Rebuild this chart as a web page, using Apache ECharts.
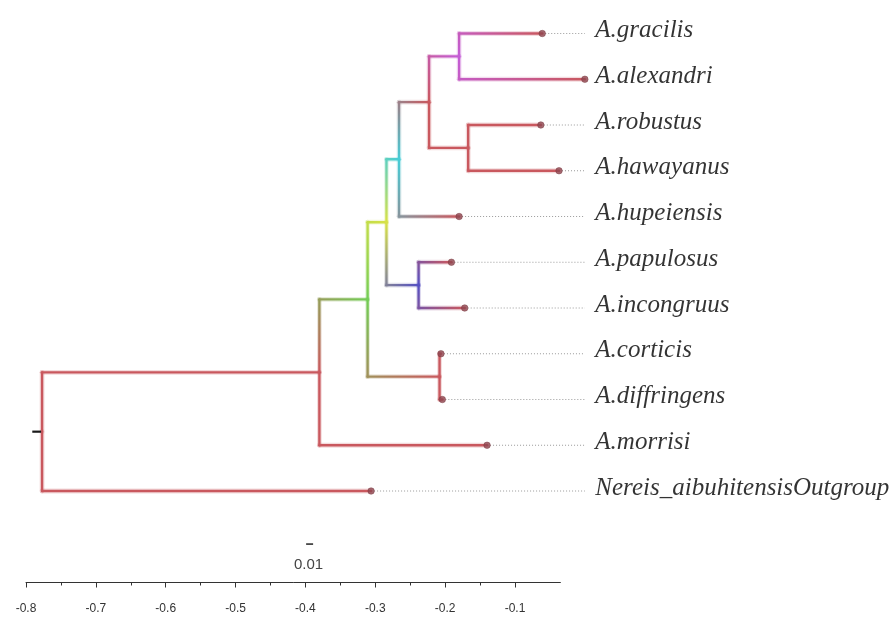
<!DOCTYPE html>
<html><head><meta charset="utf-8">
<script src="https://cdn.jsdelivr.net/npm/echarts@6/dist/echarts.min.js"></script>
<style>html,body{margin:0;padding:0;background:#fff}#c{width:893px;height:619px}</style>
</head><body><div id="c"></div>
<script>
// ---- data ----
const leafNames = ['A.gracilis','A.alexandri','A.robustus','A.hawayanus','A.hupeiensis','A.papulosus','A.incongruus','A.corticis','A.diffringens','A.morrisi','Nereis_aibuhitensisOutgroup'];
const leafX = [-0.061, 0.000, -0.063, -0.037, -0.180, -0.191, -0.172, -0.206, -0.204, -0.140, -0.306];
const nodeNames = ['F','G','E','D','H','C','I','B','A','Root'];
const nodeX = [-0.180, -0.167, -0.223, -0.266, -0.238, -0.284, -0.208, -0.311, -0.380, -0.777];
const nodeKids = [
  ['A.gracilis','A.alexandri'],
  ['A.robustus','A.hawayanus'],
  ['F','G'],
  ['E','A.hupeiensis'],
  ['A.papulosus','A.incongruus'],
  ['D','H'],
  ['A.corticis','A.diffringens'],
  ['C','I'],
  ['B','A.morrisi'],
  ['A','Nereis_aibuhitensisOutgroup']
];
const rootStubX = -0.791;
const labelAnchorX = 0.0;
const tickValues = [-0.8,-0.7,-0.6,-0.5,-0.4,-0.3,-0.2,-0.1];
const minorTickValues = [-0.75,-0.65,-0.55,-0.45,-0.35,-0.25,-0.15];
const scaleBarCenter = -0.394;
const scaleBarLength = 0.01;
const scaleBarText = '0.01';

// ---- styles ----
const palette = {
  red: [201, 88, 94],
  magenta: [196, 92, 214],
  cyan: [70, 205, 215],
  yellow: [215, 225, 70],
  green: [115, 205, 85],
  blue: [85, 80, 195]
};
const nodeColorKey = {Root:'red', A:'red', B:'green', C:'yellow', D:'cyan', E:'red', F:'magenta', G:'red', H:'blue', I:'red'};

// ---- build tree ----
const pos = {};
leafNames.forEach((n, i) => { pos[n] = {x: leafX[i], y: i, col: palette.red}; });
nodeNames.forEach((n, i) => {
  const ys = nodeKids[i].map(k => pos[k].y);
  pos[n] = {x: nodeX[i], y: ys.reduce((a, b) => a + b, 0) / ys.length, col: palette[nodeColorKey[n]]};
});
const edges = [];
nodeNames.forEach((n, i) => {
  nodeKids[i].forEach(k => { edges.push({p: pos[n], c: pos[k]}); });
});

function rgb(c) { return 'rgb(' + c.map(v => Math.round(v)).join(',') + ')'; }
function lerp(a, b, t) { return a.map((v, i) => v + (b[i] - v) * t); }
function seg(x1, y1, x2, y2, c1, c2, w, op) {
  const grad = (Math.abs(x2 - x1) + Math.abs(y2 - y1)) > 0.5
    ? new echarts.graphic.LinearGradient(x1, y1, x2, y2, [{offset: 0, color: rgb(c1)}, {offset: 1, color: rgb(c2)}], true)
    : rgb(c1);
  return {type: 'line', shape: {x1, y1, x2, y2}, style: {stroke: grad, lineWidth: w, lineCap: 'round', opacity: op}};
}

const gridBox = {left: 26, width: 534.4, top: 33.5, height: 549, outerBoundsMode: 'none', containLabel: false};
const chart = echarts.init(document.getElementById('c'));
chart.setOption({
  animation: false,
  backgroundColor: '#fff',
  grid: [Object.assign({}, gridBox), Object.assign({}, gridBox)],
  xAxis: [{
    gridIndex: 0, type: 'value', min: -0.8, max: -0.035, interval: 0.1, position: 'bottom',
    splitLine: {show: false},
    axisLine: {show: true, onZero: false, lineStyle: {color: '#333', width: 1}},
    axisTick: {show: true, length: 5, customValues: tickValues, lineStyle: {color: '#333'}},
    axisLabel: {show: true, customValues: tickValues, margin: 20, color: '#333', fontSize: 12, fontFamily: 'Liberation Sans, Arial, sans-serif'}
  }, {
    gridIndex: 1, type: 'value', min: -0.8, max: -0.035, interval: 0.1, position: 'bottom',
    splitLine: {show: false},
    axisLine: {show: false, onZero: false},
    axisTick: {show: true, length: 3, customValues: minorTickValues, lineStyle: {color: '#333'}},
    axisLabel: {show: false}
  }],
  yAxis: [
    {gridIndex: 0, type: 'value', min: 0, max: 12, inverse: true, show: false},
    {gridIndex: 1, type: 'value', min: 0, max: 12, inverse: true, show: false}
  ],
  series: [
    // dotted leaders
    {
      type: 'custom', silent: true, z: 1, clip: false,
      data: leafNames.map((n, i) => [leafX[i], i, labelAnchorX]),
      encode: {x: [0, 2], y: 1},
      renderItem: function (params, api) {
        const a = api.coord([api.value(0), api.value(1)]);
        const b = api.coord([api.value(2), api.value(1)]);
        if (b[0] - a[0] < 1) return;
        return {type: 'line', shape: {x1: a[0], y1: a[1], x2: b[0], y2: b[1]},
          style: {stroke: '#9a9a9a', lineWidth: 1, lineDash: [1, 2]}};
      }
    },
    // branches
    {
      type: 'custom', silent: true, z: 2, clip: false,
      data: edges.map(e => [e.p.x, e.p.y, e.c.x, e.c.y]),
      encode: {x: [0, 2], y: [1, 3]},
      renderItem: function (params, api) {
        const e = edges[params.dataIndex];
        const p = api.coord([api.value(0), api.value(1)]);
        const k = api.coord([api.value(0), api.value(3)]);
        const c = api.coord([api.value(2), api.value(3)]);
        const vLen = Math.abs(k[1] - p[1]), hLen = Math.abs(c[0] - k[0]);
        const t = vLen / ((vLen + hLen) || 1);
        const mid = lerp(e.p.col, e.c.col, t);
        const kids = [];
        [[4.8, 0.22], [2.4, 1]].forEach(([w, op]) => {
          if (vLen > 0) kids.push(seg(p[0], p[1], k[0], k[1], e.p.col, mid, w, op));
          kids.push(seg(k[0], k[1], c[0], c[1], mid, e.c.col, w, op));
        });
        return {type: 'group', children: kids};
      }
    },
    // root stub
    {
      type: 'custom', silent: true, z: 2, clip: false,
      data: [[rootStubX, pos.Root.y, pos.Root.x]],
      encode: {x: [0, 2], y: 1},
      renderItem: function (params, api) {
        const a = api.coord([api.value(0), api.value(1)]);
        const b = api.coord([api.value(2), api.value(1)]);
        return {type: 'line', shape: {x1: a[0], y1: a[1], x2: b[0] - 1, y2: b[1]},
          style: {stroke: '#1a1a1a', lineWidth: 2.2}};
      }
    },
    // tip dots
    {
      type: 'scatter', silent: true, z: 3, clip: false,
      data: leafNames.map((n, i) => [leafX[i], i]),
      symbol: 'circle', symbolSize: 6.5,
      itemStyle: {color: '#8e4650', borderColor: '#7a3840', borderWidth: 0.6}
    },
    // labels
    {
      type: 'scatter', silent: true, z: 3, clip: false,
      data: leafNames.map((n, i) => ({value: [labelAnchorX, i], name: n})),
      symbolSize: 1,
      itemStyle: {color: 'rgba(0,0,0,0)'},
      label: {show: true, position: 'right', distance: 10, offset: [0, -3], formatter: p => p.name,
        fontFamily: 'Liberation Serif, Times New Roman, serif', fontStyle: 'italic', fontSize: 25, color: '#000'}
    },
    // scale bar
    {
      type: 'custom', silent: true, z: 3, clip: false,
      data: [[scaleBarCenter, 11.16, scaleBarLength, 11.62]],
      encode: {x: 0, y: 1},
      renderItem: function (params, api) {
        const c = api.coord([api.value(0), api.value(1)]);
        const w = api.size([api.value(2), 0])[0];
        const tp = api.coord([api.value(0), api.value(3)]);
        return {type: 'group', children: [
          {type: 'line', shape: {x1: c[0] - w / 2, y1: c[1], x2: c[0] + w / 2, y2: c[1]}, style: {stroke: '#222', lineWidth: 1.5}},
          {type: 'text', x: tp[0] - 1, y: tp[1], style: {text: scaleBarText, fill: '#444', fontSize: 15, fontFamily: 'Liberation Sans, Arial, sans-serif', align: 'center', verticalAlign: 'middle'}}
        ]};
      }
    }
  ]
});
</script>
</body></html>
